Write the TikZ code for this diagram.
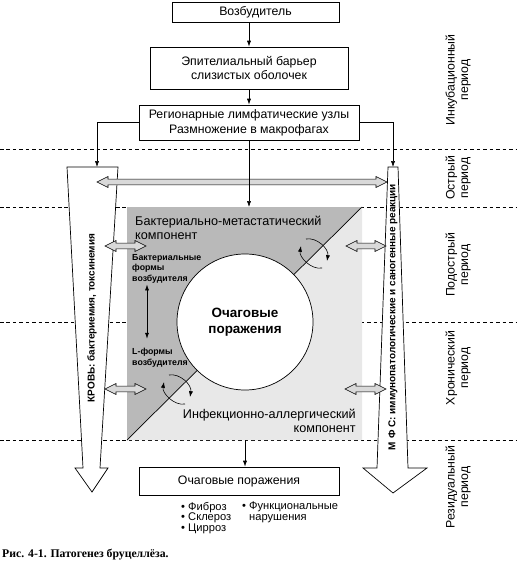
\documentclass[tikz,border=0pt]{standalone}
\usepackage{fontspec}
\setmainfont{Liberation Sans}
\newfontfamily\capfont{Liberation Serif}
\usetikzlibrary{arrows.meta,positioning}

\tikzset{
  box/.style={draw, line width=0.7pt, align=center, inner sep=0pt, font=\fontsize{10.5}{12.5}\selectfont},
  period/.style={rotate=90, align=center, font=\fontsize{10.5}{11.5}\selectfont},
  hollow/.style={draw, line width=0.5pt, fill=gray!30},
  thin arrow/.style={line width=0.5pt, -{Latex[length=5pt,width=3.5pt]}},
  swirl/.pic={
    \draw[thin arrow] (-9,-14) .. controls (2,-16) and (14,-4) .. (12,8);
    \draw[thin arrow] (7,15) .. controls (-4,17) and (-16,4) .. (-14,-7);
  }
}
% hollow double arrow: x1, x2, y
\newcommand{\dblarrow}[3]{%
  \filldraw[hollow] (#1,#3) -- ({#1+11},{#3-5.5}) -- ({#1+11},{#3-2.8}) -- ({#2-11},{#3-2.8}) -- ({#2-11},{#3-5.5})
    -- (#2,#3) -- ({#2-11},{#3+5.5}) -- ({#2-11},{#3+2.8}) -- ({#1+11},{#3+2.8}) -- ({#1+11},{#3+5.5}) -- cycle;}

\begin{document}
\begin{tikzpicture}[x=0.03cm, y=-0.03cm]
\useasboundingbox (0,0) rectangle (517,567);

% periods
\foreach \y in {149,207,322,440}
  \draw[dashed, dash pattern=on 3pt off 2.5pt, line width=0.6pt] (0,\y) -- (517,\y);
\node[period] (inkub) at (458,80) {Инкубационный\\период};
\node[period] (ostr) at (458,178) {Острый\\период};
\node[period] (podostr) at (458,265) {Подострый\\период};
\node[period] (hron) at (458,368) {Хронический\\период};
\node[period] (rezid) at (458,487) {Резидуальный\\период};

% top boxes
\node[box, minimum width=5.01cm, minimum height=0.6cm] (vozb) at (255.5,12) {Возбудитель};
\node[box, minimum width=5.94cm, minimum height=1.26cm] (epi) at (249,68) {Эпителиальный барьер\\слизистых оболочек};
\node[box, minimum width=6.6cm, minimum height=1.05cm] (region) at (249,122.5) {Регионарные лимфатические узлы\\Размножение в макрофагах};
\draw[thin arrow] (vozb.south -| epi.north) -- (epi.north);
\draw[thin arrow] (epi.south) -- (region.north);

% big arrows
\coordinate (krov-in) at (97,167);
\coordinate (mfs-in) at (393,167);
\draw[fill=white, line width=0.6pt] (67,167) -- (118,167) -- (100,468) -- (108,468) -- (92,492) -- (75,468) -- (83,468) -- cycle;
\draw[fill=white, line width=0.6pt] (388,167) -- (398,167) -- (408,468) -- (427,468) -- (393,493) -- (363,468) -- (377,468) -- cycle;
\node[rotate=90, font=\bfseries\fontsize{8.5}{10}\selectfont] (krov) at (92,318) {КРОВЬ: бактериемия, токсинемия};
\node[rotate=90, font=\bfseries\fontsize{8.5}{10}\selectfont] (mfs) at (393,317) {М Ф С: иммунопатологические и саногенные реакции};
\draw[thin arrow] (region.west) -| (krov-in);
\draw[thin arrow] (region.east) -| (mfs-in);

% focus square
\coordinate (sq-tl) at (127,207);
\coordinate (sq-tr) at (362,207);
\coordinate (sq-br) at (362,440);
\coordinate (sq-bl) at (127,440);
\fill[gray!55] (sq-tl) -- (sq-tr) -- (sq-bl) -- cycle;
\fill[gray!18] (sq-tr) -- (sq-br) -- (sq-bl) -- cycle;
\draw[line width=0.6pt] (sq-bl) -- (sq-tr);
\node[circle, draw, fill=white, minimum size=4.08cm, inner sep=0pt, line width=0.6pt, align=center,
  font=\bfseries\fontsize{11.5}{14}\selectfont] (ochag) at (245,322) {Очаговые\\поражения};
\node[anchor=west, align=left, inner sep=0pt, font=\fontsize{10.8}{11.5}\selectfont] (bmk) at (135,228) {Бактериально-метастатический\\компонент};
\node[anchor=east, align=right, inner sep=0pt, font=\fontsize{10.8}{11.5}\selectfont] (iak) at (356,421) {Инфекционно-аллергический\\компонент};
\node[anchor=north west, align=left, inner sep=0pt, font=\bfseries\fontsize{7.5}{9}\selectfont] (bform) at (132,254) {Бактериальные\\формы\\возбудителя};
\node[anchor=north west, align=left, inner sep=0pt, font=\bfseries\fontsize{7.5}{9}\selectfont] (lform) at (132,348) {L-формы\\возбудителя};
\draw[line width=0.5pt, {Latex[length=5pt,width=3.5pt]}-{Latex[length=5pt,width=3.5pt]}]
  ([xshift=0.45cm, yshift=-1pt]bform.south west) -- ([xshift=0.45cm, yshift=8pt]lform.north west);
\pic at (315,253) {swirl};
\pic at (178,389) {swirl};

% exchange arrows
\dblarrow{97}{387}{182}
\dblarrow{105}{146}{246}
\dblarrow{346}{386}{246}
\dblarrow{105}{146}{389}
\dblarrow{345}{386}{389}

\draw[thin arrow] (region.south) -- (region.south |- sq-tl);

% outcome
\node[box, minimum width=6cm, minimum height=0.84cm] (result) at (239,481) {Очаговые поражения};
\draw[thin arrow] (ochag.south |- sq-bl) -- (ochag.south |- result.north);
\node[anchor=north west, align=left, inner sep=0pt, font=\fontsize{9.5}{8.8}\selectfont] (list1) at (181,502) {• Фиброз\\• Склероз\\• Цирроз};
\node[anchor=north west, align=left, inner sep=0pt, font=\fontsize{9.5}{8.8}\selectfont] (list2) at (242,502) {• Функциональные\\\hphantom{• }нарушения};

\node[anchor=west, inner sep=0pt, font=\capfont\bfseries\fontsize{10}{12}\selectfont] (caption) at (2,555) {Рис. 4-1. Патогенез бруцеллёза.};
\end{tikzpicture}
\end{document}
